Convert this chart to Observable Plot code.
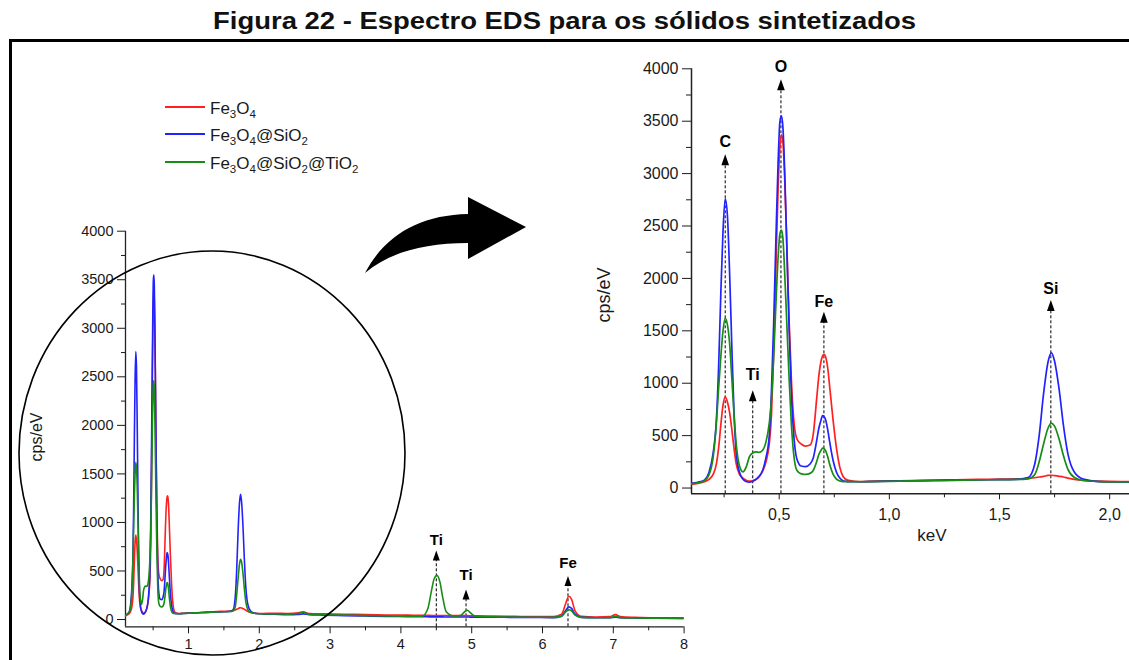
<!DOCTYPE html>
<html>
<head>
<meta charset="utf-8">
<script src="https://cdn.jsdelivr.net/npm/d3@7"></script>
<script src="https://cdn.jsdelivr.net/npm/@observablehq/plot@0.6"></script>
<style>
  body { margin: 0; background: #fff; }
  #root { position: relative; width: 1129px; height: 660px; overflow: hidden; background: #fff;
          font-family: "Liberation Sans", Arial, sans-serif; color: #111; }
  #title { position: absolute; top: 8px; left: 0; width: 1129px; text-align: center; }
  #title span { display: inline-block; font-weight: bold; font-size: 23px; white-space: nowrap; transform-origin: center; }
  #frame { position: absolute; left: 9px; top: 39px; width: 1400px; height: 900px; border: 3px solid #000; box-sizing: border-box; }
  .leg { position: absolute; left: 165px; height: 22px; line-height: 22px; font-size: 17px; white-space: nowrap; color: #1a1a1a; }
  .leg .sw { position: absolute; left: 0; top: 8px; width: 40px; height: 2px; }
  .leg .tx { position: absolute; left: 45px; top: 0; }
  .leg sub { font-size: 11.5px; vertical-align: -4px; line-height: 0; }
  .ylab { position: absolute; transform: translate(-50%, -50%) rotate(-90deg); white-space: nowrap; color: #1a1a1a; }
</style>
</head>
<body>
<div id="root">
  <div id="frame"></div>
  <div id="title"><span id="tt">Figura 22 - Espectro EDS para os sólidos sintetizados</span></div>
</div>
<script>
// ---------- data ----------
const keV = [
  0.10, 0.13, 0.16, 0.18, 0.20, 0.215,
  0.225, 0.235, 0.245, 0.255, 0.265, 0.275, 0.285, 0.295, 0.305, 0.32, 0.335,
  0.35, 0.365, 0.38, 0.395, 0.41, 0.425, 0.44,
  0.455, 0.465, 0.475, 0.485, 0.495, 0.503, 0.51, 0.517, 0.525, 0.535, 0.545, 0.555, 0.565, 0.58, 0.60, 0.62,
  0.64, 0.655, 0.67, 0.68, 0.69, 0.697, 0.704, 0.711, 0.72, 0.73, 0.745, 0.76, 0.775, 0.79, 0.81, 0.84,
  0.87, 0.92, 1.0, 1.1, 1.2, 1.3, 1.4, 1.5, 1.58,
  1.63, 1.66, 1.68, 1.70, 1.72, 1.735, 1.75, 1.77, 1.79, 1.81, 1.84, 1.88, 1.95, 2.05,
  2.2, 2.4, 2.55, 2.62, 2.7, 2.9, 3.2, 3.5, 3.8, 4.1, 4.3,
  4.38, 4.43, 4.47, 4.51, 4.55, 4.59, 4.64, 4.75, 4.85, 4.9, 4.94, 4.98, 5.05,
  5.3, 5.6, 5.9, 6.15, 6.27, 6.33, 6.37, 6.41, 6.46, 6.55, 6.75, 6.95, 7.03, 7.1, 7.3, 7.6, 8.0
];
const cpsFe3O4 = [
  35, 45, 60, 80, 130, 230,
  380, 600, 790, 870, 820, 720, 560, 380, 230, 130, 95,
  75, 65, 70, 82, 110, 160, 250,
  420, 700, 1300, 2100, 2850, 3250, 3370, 3300, 2950, 2300, 1600, 1050, 680, 470, 420, 400,
  410, 520, 850, 1070, 1210, 1260, 1275, 1250, 1150, 950, 640, 380, 200, 110, 75, 65,
  62, 65, 68, 70, 75, 78, 82, 85, 88,
  92, 98, 105, 112, 120, 122, 118, 112, 105, 95, 82, 72, 65, 62,
  65, 62, 68, 80, 62, 58, 55, 50, 47, 45, 43,
  43, 42, 42, 42, 42, 41, 41, 40, 40, 40, 40, 39, 38,
  36, 33, 30, 30, 55, 170, 240, 210, 90, 32, 25, 30, 50, 30, 22, 18, 15
];
const cpsFe3O4SiO2 = [
  45, 55, 75, 140, 330, 650,
  1150, 1850, 2450, 2760, 2600, 2050, 1350, 720, 330, 150, 85,
  62, 55, 65, 85, 115, 170, 290,
  500, 930, 1570, 2360, 3100, 3490, 3550, 3440, 3020, 2270, 1520, 920, 540, 280, 210, 205,
  230, 290, 450, 570, 650, 690, 680, 650, 560, 430, 260, 150, 95, 70, 62, 60,
  60, 62, 65, 68, 72, 75, 78, 80, 82,
  100, 230, 500, 900, 1200, 1290, 1210, 950, 600, 330, 150, 85, 62, 58,
  55, 50, 52, 58, 50, 45, 40, 36, 32, 30, 28,
  28, 27, 27, 27, 27, 27, 26, 26, 26, 26, 26, 25, 25,
  24, 22, 21, 20, 35, 95, 130, 115, 55, 22, 18, 18, 25, 18, 15, 13, 12
];
const cpsFe3O4SiO2TiO2 = [
  40, 50, 70, 120, 290, 620,
  950, 1250, 1500, 1620, 1560, 1380, 1050, 700, 420, 210, 155,
  200, 300, 335, 345, 340, 360, 440,
  620, 840, 1250, 1750, 2200, 2420, 2460, 2380, 2050, 1550, 1050, 620, 340, 170, 135, 130,
  140, 170, 250, 320, 360, 380, 375, 355, 300, 220, 130, 85, 68, 62, 62, 62,
  60, 62, 64, 68, 70, 74, 78, 80, 82,
  88, 130, 250, 420, 570, 620, 590, 470, 310, 180, 100, 72, 62, 58,
  58, 55, 62, 75, 55, 50, 45, 40, 36, 34, 33,
  110, 290, 420, 455, 390, 230, 80, 35, 45, 80, 95, 70, 35,
  28, 25, 23, 22, 35, 80, 100, 90, 45, 22, 18, 20, 32, 20, 16, 14, 12
];
const seriesColors = ["#ff2020", "#2222ff", "#178c17"];

const mainYTicks = [0, 500, 1000, 1500, 2000, 2500, 3000, 3500, 4000];
const minorYTicks = [250, 750, 1250, 1750, 2250, 2750, 3250, 3750];
const mainXTicks = [1, 2, 3, 4, 5, 6, 7, 8];
const mainXMinor = [0.5, 1.5, 2.5, 3.5, 4.5, 5.5, 6.5, 7.5];
const insetXTicks = [0.5, 1.0, 1.5, 2.0];
const insetXMinor = [0.25, 0.75, 1.25, 1.75];

const mainPeakLabel = ["Ti", "Ti", "Fe"];
const mainPeakKeV = [4.50, 4.92, 6.36];
const mainPeakTextCps = [814, 453, 577];
const mainPeakArrowCps = [660, 258, 397];

const insetPeakLabel = ["C", "Ti", "O", "Fe", "Si"];
const insetPeakKeV = [0.255, 0.38, 0.508, 0.703, 1.733];
const insetPeakTextCps = [3300, 1075, 4020, 1780, 1904];
const insetPeakArrowCps = [3133, 880, 3849, 1630, 1742];

// ---------- build tables ----------
if (![cpsFe3O4, cpsFe3O4SiO2, cpsFe3O4SiO2TiO2].every(a => a.length === keV.length)) throw new Error("length mismatch");
const toRows = vals => keV.map((k, i) => ({keV: k, cps: vals[i]}));
const seriesRows = [cpsFe3O4, cpsFe3O4SiO2, cpsFe3O4SiO2TiO2].map(toRows);
const mainAnn = mainPeakLabel.map((t, i) => ({t, k: mainPeakKeV[i], ty: mainPeakTextCps[i], ay: mainPeakArrowCps[i]}));
const insetAnn = insetPeakLabel.map((t, i) => ({t, k: insetPeakKeV[i], ty: insetPeakTextCps[i], ay: insetPeakArrowCps[i]}));

const arrowHead = { draw(ctx, size) { const r = Math.sqrt(size / Math.PI); ctx.moveTo(0, -r); ctx.lineTo(0.7 * r, r); ctx.lineTo(-0.7 * r, r); ctx.closePath(); } };
const FONT = '"Liberation Sans", Arial, sans-serif';
const plain = d => String(d);

function annotationMarks(ann, yBottom, r, fs) {
  return [
    Plot.ruleX(ann, {x: "k", y1: yBottom, y2: "ay", stroke: "#000", strokeWidth: 1, strokeDasharray: "3,2"}),
    Plot.dot(ann, {x: "k", y: "ay", r, symbol: arrowHead, fill: "#000", stroke: "none"}),
    Plot.text(ann, {x: "k", y: "ty", text: "t", fontWeight: "bold", fontSize: fs, fill: "#000"})
  ];
}

// ---------- main chart ----------
const mainYBottom = -75;
const main = Plot.plot({
  width: 700, height: 660,
  marginLeft: 125, marginRight: 16.4, marginTop: 230.7, marginBottom: 33.7,
  style: {background: "transparent", fontFamily: FONT, fontSize: "14px", color: "#1a1a1a", overflow: "visible"},
  x: {domain: [0.11, 8]},
  y: {domain: [mainYBottom, 4000]},
  marks: [
    Plot.axisY({ticks: mainYTicks, tickSize: 8, tickPadding: 4, label: null, fontSize: 14.5, tickFormat: plain}),
    Plot.axisY({ticks: minorYTicks, tickSize: 4, tickFormat: () => "", label: null}),
    Plot.axisX({ticks: mainXTicks, tickSize: 7, tickPadding: 5, label: null, fontSize: 14.5, tickFormat: plain}),
    Plot.axisX({ticks: mainXMinor, tickSize: 4, tickFormat: () => "", label: null}),
    Plot.ruleX([0.11], {stroke: "#222", strokeWidth: 1.3}),
    Plot.ruleY([mainYBottom], {stroke: "#222", strokeWidth: 1.3}),
    ...annotationMarks(mainAnn, mainYBottom, 5, 15),
    ...seriesRows.map((rows, i) => Plot.line(rows, {x: "keV", y: "cps", stroke: seriesColors[i], strokeWidth: 1.6, curve: "monotone-x", clip: true}))
  ]
});

// ---------- inset chart ----------
const insetYBottom = -55;
const inset = Plot.plot({
  width: 569, height: 560,
  marginLeft: 131, marginRight: 0, marginTop: 68.3, marginBottom: 66.7,
  style: {background: "transparent", fontFamily: FONT, fontSize: "16px", color: "#1a1a1a", overflow: "visible"},
  x: {domain: [0.102, 2.09]},
  y: {domain: [insetYBottom, 4000]},
  marks: [
    Plot.axisY({ticks: mainYTicks, tickSize: 9, tickPadding: 4, label: null, fontSize: 16, tickFormat: plain}),
    Plot.axisY({ticks: minorYTicks, tickSize: 5, tickFormat: () => "", label: null}),
    Plot.axisX({ticks: insetXTicks, tickSize: 6, tickPadding: 9, label: null, fontSize: 16, tickFormat: d => d.toFixed(1).replace(".", ",")}),
    Plot.axisX({ticks: insetXMinor, tickSize: 4, tickFormat: () => "", label: null}),
    Plot.ruleX([0.102], {stroke: "#222", strokeWidth: 1.5}),
    Plot.ruleY([insetYBottom], {stroke: "#222", strokeWidth: 1.5}),
    ...annotationMarks(insetAnn, insetYBottom, 5.5, 16),
    ...seriesRows.map((rows, i) => Plot.line(rows, {x: "keV", y: "cps", stroke: seriesColors[i], strokeWidth: 1.7, curve: "monotone-x", clip: true}))
  ]
});

const root = document.getElementById("root");
[[main, 0], [inset, 560]].forEach(([svg, left]) => {
  svg.style.position = "absolute"; svg.style.top = "0px"; svg.style.left = left + "px"; svg.style.maxWidth = "none";
  root.appendChild(svg);
});

// ---------- axis titles ----------
function addDiv(cls, html, css) { const d = document.createElement("div"); d.className = cls; d.innerHTML = html; Object.assign(d.style, css); root.appendChild(d); return d; }
addDiv("ylab", "cps/eV", {left: "37px", top: "437px", fontSize: "16px"});
addDiv("ylab", "cps/eV", {left: "604px", top: "295px", fontSize: "18px"});
addDiv("", "keV", {position: "absolute", left: "932px", top: "536px", transform: "translate(-50%,-50%)", fontSize: "17px", color: "#1a1a1a"});

// ---------- legend ----------
const legendHTML = [
  "Fe<sub>3</sub>O<sub>4</sub>",
  "Fe<sub>3</sub>O<sub>4</sub>@SiO<sub>2</sub>",
  "Fe<sub>3</sub>O<sub>4</sub>@SiO<sub>2</sub>@TiO<sub>2</sub>"
];
legendHTML.forEach((h, i) => {
  addDiv("leg", `<div class="sw" style="background:${seriesColors[i]}"></div><div class="tx">${h}</div>`, {top: (97.5 + 27.5 * i) + "px"});
});

// ---------- circle & curved arrow overlay ----------
const ns = "http://www.w3.org/2000/svg";
const ov = document.createElementNS(ns, "svg");
ov.setAttribute("width", 1129); ov.setAttribute("height", 660);
Object.assign(ov.style, {position: "absolute", left: "0px", top: "0px", pointerEvents: "none"});
const ell = document.createElementNS(ns, "ellipse");
ell.setAttribute("cx", 212); ell.setAttribute("cy", 453); ell.setAttribute("rx", 193); ell.setAttribute("ry", 202);
ell.setAttribute("fill", "none"); ell.setAttribute("stroke", "#000"); ell.setAttribute("stroke-width", 1.6);
ov.appendChild(ell);
const arr = document.createElementNS(ns, "path");
arr.setAttribute("d", "M365,273 C385,235 420,215 468,214 L468,197 L526,227 L468,259 L468,243 C425,243 390,252 365,273 Z");
arr.setAttribute("fill", "#000");
ov.appendChild(arr);
root.appendChild(ov);

// ---------- title width ----------
const tt = document.getElementById("tt");
const w = tt.getBoundingClientRect().width;
tt.style.transform = `scaleX(${703 / w})`;
</script>
</body>
</html>
